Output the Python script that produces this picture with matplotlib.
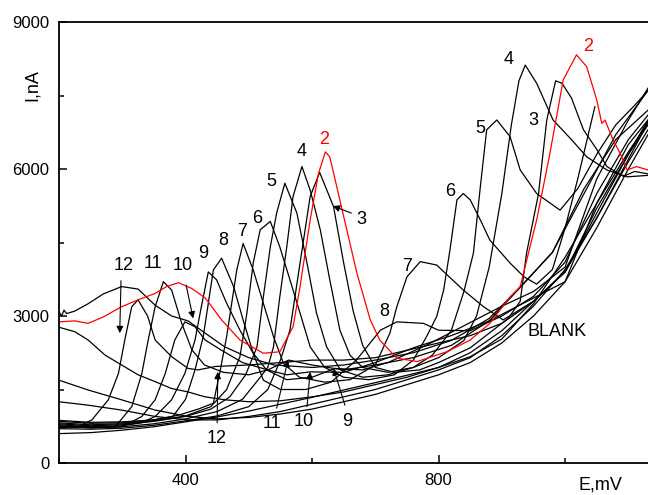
import matplotlib
matplotlib.use('Agg')
from matplotlib import pyplot as plt
from matplotlib.ticker import MultipleLocator

plt.rcParams['font.family'] = ['Liberation Sans', 'DejaVu Sans']

# curve 2 (red)
e2 = [200, 225, 246, 270, 299, 325, 352, 370, 389, 410, 431, 457, 486, 523, 549, 570, 581, 597, 610, 621, 628, 650,
      671, 692, 707, 734, 766, 813, 850, 881, 913, 929, 955, 976, 997, 1018, 1034, 1050, 1058, 1063, 1076, 1087, 1098,
      1113, 1131]
i2 = [2880, 2900, 2850, 2980, 3190, 3330, 3460, 3600, 3680, 3560, 3370, 2920, 2510, 2240, 2270, 2780, 3600, 4960, 5900,
      6350, 6250, 5030, 3870, 2920, 2510, 2140, 2070, 2270, 2510, 2850, 3390, 3600, 4960, 6320, 7820, 8330, 8090, 7410,
      6930, 7000, 6590, 6320, 5980, 6050, 5980]

e3 = [200, 250, 300, 350, 400, 450, 500, 530, 550, 565, 581, 597, 612, 634, 650, 665, 680, 700, 730, 770, 800, 850, 880,
      910, 929, 939, 958, 971, 985, 995, 1010, 1029, 1050, 1066, 1092, 1110, 1131]
i3 = [700, 690, 710, 770, 860, 960, 1150, 1500, 2100, 2710, 4080, 5440, 5930, 5230, 4080, 3100, 2400, 1950, 1850, 1900,
      2050, 2350, 2650, 2950, 3300, 4280, 5500, 7000, 7800, 7750, 7450, 6800, 6400, 6050, 5850, 5950, 5900]

e4 = [200, 250, 300, 350, 400, 450, 490, 515, 530, 539, 549, 560, 570, 584, 597, 613, 628, 644, 660, 680, 720, 760, 800,
      840, 860, 880, 900, 915, 927, 937, 955, 981, 1010, 1034, 1066, 1098, 1131]
i4 = [750, 720, 740, 800, 900, 1050, 1300, 1700, 1950, 2370, 3390, 4410, 5440, 6050, 5570, 4760, 3740, 2710, 2200, 1950,
      1850, 1950, 2150, 2500, 3000, 4000, 5500, 6900, 7800, 8120, 7750, 7000, 6600, 6250, 5980, 5840, 5870]

e5 = [200, 250, 300, 350, 400, 440, 470, 495, 513, 523, 534, 544, 557, 576, 592, 607, 623, 645, 680, 720, 760, 790, 820,
      840, 855, 866, 876, 892, 913, 929, 955, 992, 1020, 1050, 1080, 1110, 1131]
i5 = [800, 760, 780, 850, 950, 1100, 1350, 1800, 2370, 3390, 4410, 5100, 5710, 5100, 4080, 3060, 2370, 1900, 1750, 1800,
      1950, 2200, 2700, 3500, 4280, 5640, 6800, 7000, 6660, 5980, 5500, 5160, 5600, 6300, 6900, 7300, 7600]

e6 = [200, 250, 300, 350, 400, 440, 465, 486, 497, 507, 518, 534, 549, 565, 581, 597, 620, 650, 690, 730, 760, 781, 797,
      808, 818, 829, 839, 850, 866, 881, 913, 935, 955, 980, 1000, 1020, 1047]
i6 = [820, 780, 800, 860, 960, 1150, 1500, 2170, 3060, 4080, 4760, 4930, 4410, 3740, 3060, 2370, 1950, 1750, 1700, 1800,
      2100, 2580, 2990, 3530, 4350, 5370, 5500, 5370, 4960, 4550, 4080, 3800, 3650, 3950, 4800, 5800, 7270]

e7 = [200, 250, 300, 350, 390, 420, 444, 455, 465, 473, 481, 491, 507, 523, 539, 555, 580, 620, 660, 700, 723, 734, 750,
      771, 797, 839, 871, 902, 950, 1000, 1050, 1100, 1131]
i7 = [850, 810, 820, 880, 980, 1100, 1220, 1900, 2580, 3260, 3940, 4480, 3940, 3260, 2580, 2030, 1750, 1650, 1700, 2000,
      2650, 3190, 3800, 4110, 4040, 3530, 3190, 2920, 3300, 3900, 5200, 6300, 7000]

e8 = [200, 250, 300, 350, 380, 400, 415, 428, 436, 444, 457, 476, 491, 507, 523, 550, 590, 630, 670, 708, 734, 776, 800,
      850, 900, 950, 1000, 1050, 1100, 1131]
i8 = [870, 830, 840, 880, 950, 1300, 1900, 2580, 3260, 3940, 4180, 3600, 2920, 2240, 1690, 1500, 1500, 1650, 2100, 2710,
      2880, 2850, 2710, 2700, 3000, 3400, 4100, 5500, 6600, 7100]

e9 = [200, 250, 300, 330, 352, 378, 399, 415, 425, 436, 449, 465, 486, 507, 528, 560, 600, 636, 680, 720, 780, 840, 900,
      950, 1000, 1050, 1100, 1131]
i9 = [780, 740, 760, 820, 950, 1290, 1830, 2510, 3190, 3900, 3740, 3260, 2710, 2240, 1900, 1700, 1750, 1930, 1900, 2050,
      2400, 2800, 3200, 3500, 4000, 5800, 7000, 7650]

e10 = [200, 250, 300, 331, 352, 368, 383, 399, 415, 431, 457, 490, 530, 560, 597, 650, 700, 760, 820, 880, 940, 1000,
       1050, 1100, 1131]
i10 = [760, 720, 740, 950, 1290, 1830, 2510, 2880, 2780, 2510, 2300, 2050, 1900, 1800, 1860, 1850, 2050, 2350, 2600,
       2900, 3300, 3700, 5300, 6500, 7000]

e11 = [200, 250, 289, 315, 331, 341, 352, 365, 378, 394, 410, 430, 460, 500, 530, 563, 600, 650, 700, 760, 820, 880, 930,
       980, 1030, 1080, 1131]
i11 = [740, 720, 740, 1150, 1830, 2510, 3190, 3700, 3530, 2850, 2310, 2000, 1850, 1800, 1900, 2100, 2000, 1900, 2000,
       2150, 2400, 2900, 3600, 4300, 5600, 6600, 7200]

e12 = [200, 230, 252, 278, 294, 304, 315, 325, 340, 352, 378, 404, 420, 447, 500, 550, 600, 650, 700, 750, 800, 850, 900,
       950, 1000, 1050, 1100, 1131]
i12 = [720, 740, 880, 1290, 1830, 2510, 3190, 3330, 3000, 2510, 2170, 1930, 1900, 1970, 2000, 2050, 2100, 2100, 2150,
       2300, 2450, 2600, 2850, 3300, 3900, 5000, 6200, 6950]

# unlabeled curves
e_u = [200, 204, 208, 212, 225, 246, 270, 299, 325, 352, 378, 404, 431, 462, 500, 540, 600, 650, 700, 760, 820, 880, 930,
       980, 1030, 1080, 1131]
i_u = [3090, 3000, 3120, 3050, 3100, 3250, 3450, 3600, 3550, 3220, 3000, 2900, 2650, 2370, 2150, 2000, 1950, 2000, 2100,
       2250, 2500, 2950, 3600, 4300, 5500, 6700, 7600]

e_a = [200, 225, 246, 273, 299, 325, 352, 378, 404, 431, 462, 500, 550, 600, 650, 700, 750, 800, 850, 900, 950, 1000,
       1050, 1100, 1131]
i_a = [2770, 2680, 2510, 2200, 2000, 1800, 1660, 1520, 1450, 1350, 1290, 1250, 1270, 1350, 1450, 1600, 1750, 1950, 2250,
       2700, 3300, 3900, 5100, 6300, 6900]

e_b = [200, 246, 299, 352, 404, 450, 500, 550, 600, 650, 700, 750, 800, 850, 900, 950, 1000, 1050, 1100, 1131]
i_b = [1690, 1490, 1290, 1080, 950, 900, 930, 1000, 1100, 1250, 1400, 1600, 1800, 2050, 2450, 3000, 3700, 4800, 6000,
       6700]

e_c = [200, 246, 299, 352, 404, 450, 500, 550, 600, 650, 700, 750, 800, 850, 900, 950, 1000, 1050, 1100, 1131]
i_c = [1250, 1180, 1080, 950, 880, 880, 950, 1050, 1200, 1350, 1500, 1700, 1900, 2150, 2600, 3200, 3950, 5000, 6150,
       6800]

e_blank = [200, 250, 300, 350, 400, 450, 500, 550, 600, 650, 700, 750, 800, 850, 900, 950, 1000, 1050, 1100, 1131]
i_blank = [600, 620, 670, 740, 840, 940, 1060, 1200, 1340, 1490, 1640, 1790, 1950, 2170, 2530, 3250, 4200, 5300, 6350,
           6950]

black_curves = [(e3, i3), (e4, i4), (e5, i5), (e6, i6), (e7, i7), (e8, i8), (e9, i9), (e10, i10), (e11, i11),
                (e12, i12), (e_u, i_u), (e_a, i_a), (e_b, i_b), (e_c, i_c), (e_blank, i_blank)]

fig = plt.figure(figsize=(6.48, 4.95), dpi=100)
ax = fig.add_axes([59 / 648, 32 / 495, 589 / 648, 441 / 495])

for e, i in black_curves:
    ax.plot(e, i, color='black', lw=0.9)
ax.plot(e2, i2, color='red', lw=0.9)

ax.set_xlim(200, 1131)
ax.set_ylim(0, 9000)
ax.xaxis.set_major_locator(MultipleLocator(400))
ax.xaxis.set_minor_locator(MultipleLocator(200))
ax.yaxis.set_major_locator(MultipleLocator(3000))
ax.yaxis.set_minor_locator(MultipleLocator(1500))
ax.tick_params(which='both', direction='in', top=False, right=False, labelsize=12, width=1.1)
ax.tick_params(which='major', length=6, pad=7)
ax.tick_params(which='minor', length=3.5)
ax.spines['right'].set_visible(False)
for s in ['left', 'bottom', 'top']:
    ax.spines[s].set_linewidth(1.3)

# curve labels
fs = 13
labels = [('2', 619, 6600, 'red'), ('2', 1037, 8510, 'red'),
          ('4', 583, 6350, 'k'), ('4', 910, 8240, 'k'),
          ('5', 535, 5740, 'k'), ('5', 866, 6830, 'k'),
          ('3', 950, 7000, 'k'),
          ('6', 514, 4990, 'k'), ('6', 819, 5540, 'k'),
          ('7', 490, 4720, 'k'), ('7', 750, 4010, 'k'),
          ('8', 459, 4550, 'k'), ('8', 714, 3090, 'k'),
          ('9', 428, 4280, 'k'), ('11', 349, 4080, 'k'),
          ('BLANK', 988, 2680, 'k')]
for txt, x, y, c in labels:
    ax.text(x, y, txt, color=c, fontsize=fs, ha='center', va='center')

arrow = dict(arrowstyle='-|>', color='black', lw=0.8, mutation_scale=10, shrinkA=0, shrinkB=0)
ax.text(678, 4970, '3', fontsize=fs, ha='center', va='center')
ax.annotate('', xy=(633, 5245), xytext=(662, 5100), arrowprops=arrow)
ax.text(302, 4040, '12', fontsize=fs, ha='center', va='center')
ax.annotate('', xy=(296, 2650), xytext=(298, 3720), arrowprops=arrow)
ax.text(396, 4040, '10', fontsize=fs, ha='center', va='center')
ax.annotate('', xy=(412, 2950), xytext=(401, 3630), arrowprops=arrow)
ax.text(449, 500, '12', fontsize=fs, ha='center', va='center')
ax.annotate('', xy=(451, 1860), xytext=(450, 820), arrowprops=arrow)
ax.text(536, 810, '11', fontsize=fs, ha='center', va='center')
ax.annotate('', xy=(562, 2100), xytext=(544, 1120), arrowprops=arrow)
ax.text(586, 840, '10', fontsize=fs, ha='center', va='center')
ax.annotate('', xy=(597, 1860), xytext=(592, 1150), arrowprops=arrow)
ax.text(655, 840, '9', fontsize=fs, ha='center', va='center')
ax.annotate('', xy=(634, 1930), xytext=(652, 1180), arrowprops=arrow)

fig.text(32 / 648, 1 - 85 / 495, 'I,nA', rotation=90, fontsize=13, ha='center', va='center')
fig.text(600 / 648, 1 - 485 / 495, 'E,mV', fontsize=13, ha='center', va='center')

fig.savefig('out.png', dpi=100)
